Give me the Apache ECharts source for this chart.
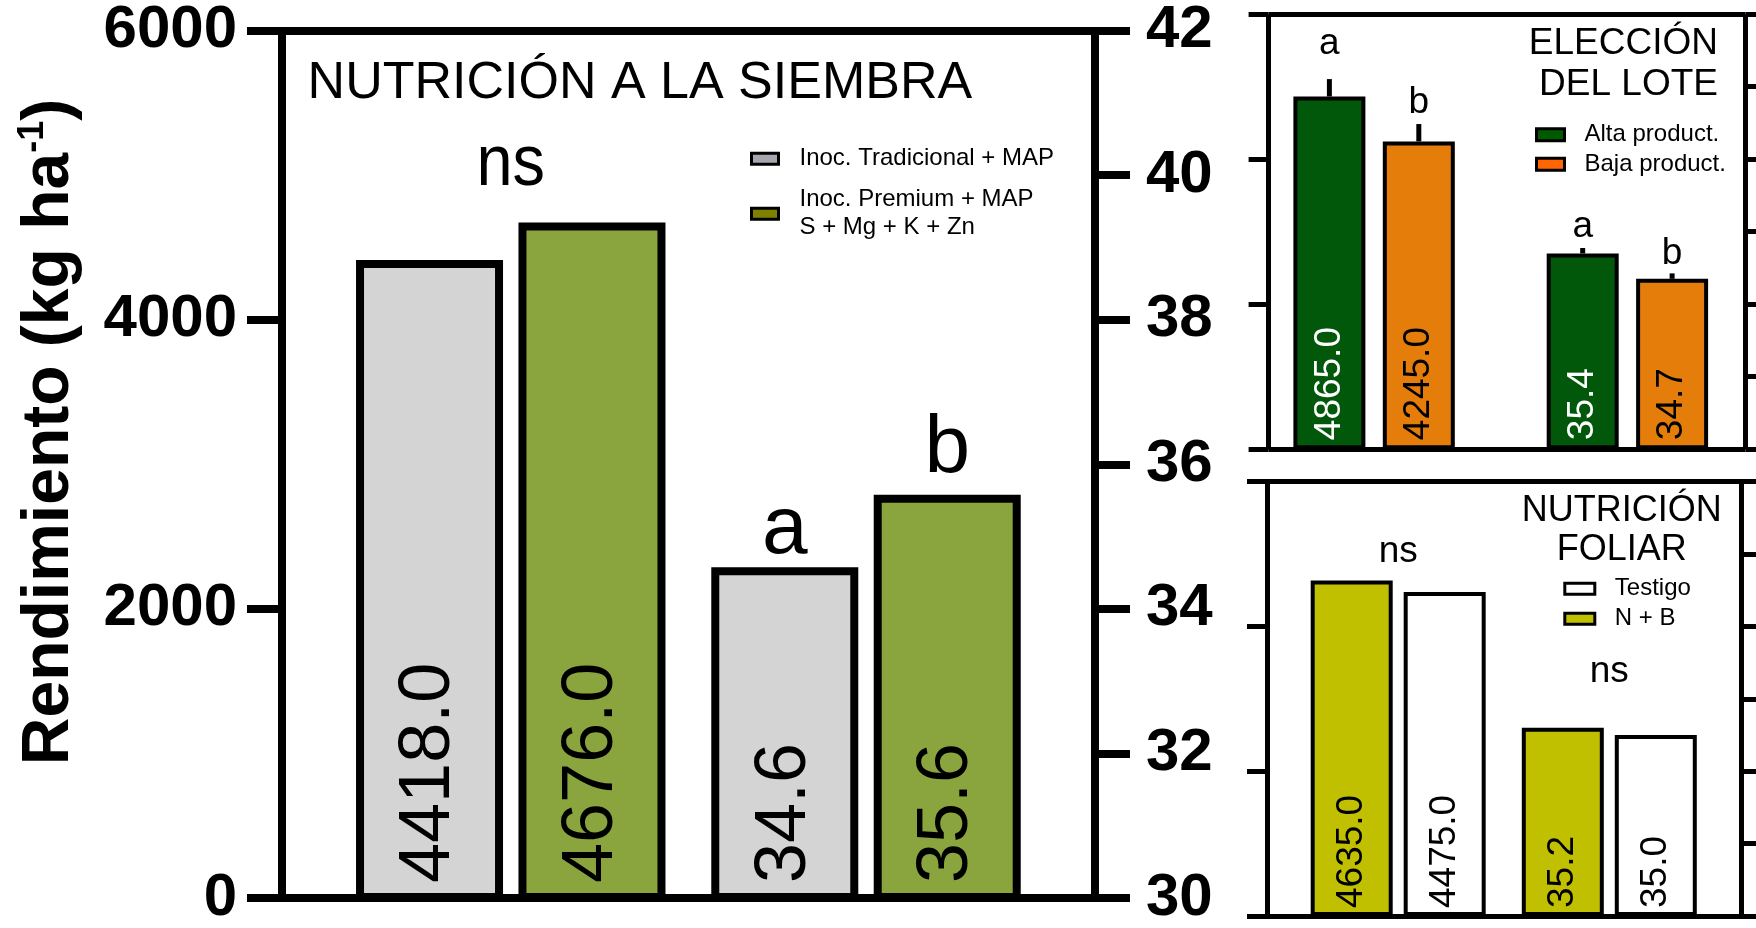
<!DOCTYPE html>
<html><head><meta charset="utf-8">
<script src="https://cdn.jsdelivr.net/npm/echarts@6/dist/echarts.min.js"></script>
<style>html,body{margin:0;padding:0;background:#fff}#c{width:1756px;height:928px}</style>
</head><body><div id="c"></div>
<script>
// ---------------- DATA ----------------
const yieldTicks = [0, 2000, 4000, 6000];
const weightTicks = [30, 32, 34, 36, 38, 40, 42];
const groupCats = ['Rendimiento', 'Peso'];

const siembraNames = ['Inoc. Tradicional + MAP', 'Inoc. Premium + MAP\nS + Mg + K + Zn'];
const siembraYield = [4418, 4676];
const siembraWeight = [34.6, 35.6];
const siembraYieldSig = ['ns'];
const siembraWeightSig = ['a', 'b'];

const loteNames = ['Alta product.', 'Baja product.'];
const loteYield = [4865, 4245];
const loteYieldErr = [240, 240];
const loteWeight = [35.4, 34.7];
const loteWeightErr = [0.15, 0.15];
const loteYieldSig = ['a', 'b'];
const loteWeightSig = ['a', 'b'];

const foliarNames = ['N + B', 'Testigo'];
const foliarYield = [4635, 4475];
const foliarWeight = [35.2, 35.0];
const foliarYieldSig = ['ns'];
const foliarWeightSig = ['ns'];
const foliarLegendOrder = ['Testigo', 'N + B'];

const titleSiembra = 'NUTRICIÓN A LA SIEMBRA';
const titleLote = 'ELECCIÓN\nDEL LOTE';
const titleFoliar = 'NUTRICIÓN\nFOLIAR';

// ---------------- LAYOUT / STYLE ----------------
const FONT = "'Liberation Sans', Arial, Helvetica, sans-serif";
const grid = [], xAxis = [], yAxis = [], series = [], legend = [], graphic = [];

function axisRange(t) { return { min: t[0], max: t[t.length - 1], interval: t[1] - t[0] }; }

function buildPanel(p) {
  const fg = grid.push(Object.assign({ containLabel: false }, p.frame)) - 1;
  const ls = { color: '#000', width: p.lineW, cap: 'butt' };
  ['bottom', 'top'].forEach(pos => xAxis.push({
    gridIndex: fg, type: 'category', data: [''], position: pos,
    axisLine: { show: true, onZero: false, lineStyle: ls },
    axisTick: { show: false }, axisLabel: { show: false }, splitLine: { show: false }
  }));
  [[yieldTicks, 'left', p.leftLabel], [weightTicks, 'right', p.rightLabel]].forEach(([t, pos, lab]) => yAxis.push(Object.assign({
    gridIndex: fg, type: 'value', position: pos,
    axisLine: { show: true, onZero: false, lineStyle: ls },
    axisTick: { show: true, length: p.tickLen, lineStyle: ls },
    axisLabel: lab ? Object.assign({ fontFamily: FONT, fontWeight: 'bold', color: '#000', formatter: v => String(v) }, lab) : { show: false },
    splitLine: { show: false }
  }, axisRange(t))));

  p.groups.forEach((grp, gi) => {
    const cx = p.groupCenters[gi];
    const bg = grid.push({ left: cx - p.groupW / 2, width: p.groupW, top: p.frame.top, height: p.frame.height }) - 1;
    const xi = xAxis.push({ gridIndex: bg, type: 'category', data: [groupCats[gi]], show: false }) - 1;
    const yi = yAxis.push(Object.assign({ gridIndex: bg, type: 'value', show: false, startValue: grp.ticks[0] }, axisRange(grp.ticks))) - 1;
    grp.vals.forEach((v, si) => {
      series.push({
        type: 'bar', name: p.names[si], xAxisIndex: xi, yAxisIndex: yi, data: [v],
        barWidth: p.barW, barGap: (p.barGap * 100) + '%', clip: true, silent: true,
        itemStyle: { color: p.colors[si], borderColor: '#000', borderWidth: p.barBorder },
        label: {
          show: true, position: 'insideBottom', rotate: 90, align: 'left', verticalAlign: 'middle',
          distance: p.labelDist, fontSize: p.labelFs, fontFamily: FONT, color: p.labelColors[si],
          formatter: q => Number(q.value).toFixed(1)
        }
      });
    });
    const n = grp.vals.length;
    const maxIdx = grp.vals.indexOf(Math.max.apply(null, grp.vals));
    const mkText = (txt, x, baseY, fs, sx) => ({
      type: 'text', x: x, y: baseY - 0.35 * fs, scaleX: sx,
      style: { text: txt, x: 0, y: 0, align: 'center', verticalAlign: 'middle', fontSize: fs, lineHeight: fs, fontFamily: FONT, fill: '#000' }
    });
    series.push({
      type: 'custom', xAxisIndex: xi, yAxisIndex: yi, silent: true, z: 5, clip: false,
      data: grp.vals.map((v, i) => [0, v, grp.err ? grp.err[i] : 0]),
      encode: { x: 0, y: 1 },
      renderItem: function (params, api) {
        const i = params.dataIndex;
        const v = api.value(1), e = api.value(2);
        const dx = (i - (n - 1) / 2) * p.barW * (1 + p.barGap);
        const b = api.coord([0, v]);
        const t = api.coord([0, v + e]);
        const ch = [];
        const fs = grp.sigFs, sx = grp.sigScaleX || 1;
        if (e > 0) ch.push({ type: 'line', shape: { x1: b[0] + dx, y1: b[1], x2: b[0] + dx, y2: t[1] }, style: { stroke: '#000', lineWidth: p.errW } });
        if (grp.sig.length === n) {
          ch.push(mkText(grp.sig[i], b[0] + dx, t[1] - grp.sigGap[i], fs, sx));
        } else if (i === maxIdx) {
          ch.push(mkText(grp.sig[0], b[0], t[1] - grp.sigGap[0], fs, sx));
        }
        return { type: 'group', children: ch };
      }
    });
  });

  legend.push(Object.assign({
    orient: 'vertical', padding: 0, icon: 'rect', selectedMode: false,
    itemStyle: { borderColor: '#000', borderWidth: 3 },
    textStyle: { fontFamily: FONT, fontSize: 24, color: '#000', lineHeight: 28, padding: [0, 0, 0, p.legendPad] },
    data: p.legendNames.map((nm, i) => ({ name: nm, itemStyle: { color: p.legendColors[i], borderColor: '#000', borderWidth: 3 } }))
  }, p.legend));
}

// Main panel: sowing nutrition
buildPanel({
  frame: { left: 282, top: 30.5, width: 813, height: 870.5 },
  lineW: 8, tickLen: 35,
  leftLabel: { fontSize: 60, margin: 45 },
  rightLabel: { fontSize: 60, margin: 51 },
  groupCenters: [510.75, 866], groupW: 320,
  barW: 147, barGap: 0.105, barBorder: 8, errW: 5,
  labelFs: 72, labelDist: 18,
  names: siembraNames, colors: ['#d4d4d4', '#8ba53e'], labelColors: ['#000', '#000'],
  groups: [
    { vals: siembraYield, ticks: yieldTicks, sig: siembraYieldSig, sigGap: [32], sigFs: 72, sigScaleX: 0.9 },
    { vals: siembraWeight, ticks: weightTicks, sig: siembraWeightSig, sigGap: [8, 17], sigFs: 82 }
  ],
  legendNames: siembraNames, legendColors: ['#a6a6ae', '#808000'], legendPad: 16,
  legend: { left: 750, top: 144.7, itemGap: 13, itemWidth: 27, itemHeight: 11 }
});

// Top right: lot choice
buildPanel({
  frame: { left: 1268.6, top: 14.2, width: 477, height: 435 },
  lineW: 5, tickLen: 20,
  leftLabel: null, rightLabel: null,
  groupCenters: [1374.1, 1627.4], groupW: 220,
  barW: 72, barGap: 0.242, barBorder: 4, errW: 5,
  labelFs: 37, labelDist: 9,
  names: loteNames, colors: ['#01580a', '#e47d0a'], labelColors: ['#fff', '#000'],
  groups: [
    { vals: loteYield, err: loteYieldErr, ticks: yieldTicks, sig: loteYieldSig, sigGap: [22, 8], sigFs: 37 },
    { vals: loteWeight, err: loteWeightErr, ticks: weightTicks, sig: loteWeightSig, sigGap: [8, 7], sigFs: 37 }
  ],
  legendNames: loteNames, legendColors: ['#005a00', '#ff6600'], legendPad: 15,
  legend: { left: 1535, top: 120.8, itemGap: 1.4, itemWidth: 28, itemHeight: 12 }
});

// Bottom right: foliar nutrition
buildPanel({
  frame: { left: 1267, top: 481.7, width: 474, height: 434.3 },
  lineW: 5, tickLen: 20,
  leftLabel: null, rightLabel: null,
  groupCenters: [1398.2, 1609.3], groupW: 220,
  barW: 82, barGap: 0.134, barBorder: 4, errW: 5,
  labelFs: 37, labelDist: 8,
  names: foliarNames, colors: ['#c0c000', '#ffffff'], labelColors: ['#000', '#000'],
  groups: [
    { vals: foliarYield, ticks: yieldTicks, sig: foliarYieldSig, sigGap: [16], sigFs: 37 },
    { vals: foliarWeight, ticks: weightTicks, sig: foliarWeightSig, sigGap: [43], sigFs: 37 }
  ],
  legendNames: foliarLegendOrder, legendColors: ['#ffffff', '#c0c000'], legendPad: 15,
  legend: { left: 1563.3, top: 574.7, itemGap: 2, itemWidth: 30, itemHeight: 11 }
});

// Titles and y-axis name
graphic.push({ type: 'text', x: 307.6, y: 102 - 0.35 * 52, style: { text: titleSiembra, fontSize: 52, lineHeight: 52, fontFamily: FONT, fill: '#000', align: 'left', verticalAlign: 'middle' } });
graphic.push({ type: 'text', x: 1718, y: 56.7 - 0.35 * 37 - 20.5, style: { text: titleLote, fontSize: 37, lineHeight: 41, fontFamily: FONT, fill: '#000', align: 'right', verticalAlign: 'top' } });
graphic.push({ type: 'text', x: 1621.7, y: 523.3 - 0.35 * 36 - 19.7, style: { text: titleFoliar, fontSize: 36, lineHeight: 39.4, fontFamily: FONT, fill: '#000', align: 'center', verticalAlign: 'top' } });
graphic.push({
  type: 'text', x: 50, y: 432, rotation: Math.PI / 2,
  style: {
    text: '{m|Rendimiento (kg ha}{s|-1}{m|)}', align: 'center', verticalAlign: 'middle',
    rich: {
      m: { fontSize: 66, fontWeight: 'bold', fontFamily: FONT, fill: '#000', lineHeight: 70 },
      s: { fontSize: 36, fontWeight: 'bold', fontFamily: FONT, fill: '#000', lineHeight: 40, verticalAlign: 'top' }
    }
  }
});

const chart = echarts.init(document.getElementById('c'), null, { renderer: 'canvas' });
chart.setOption({ animation: false, backgroundColor: '#fff', grid, xAxis, yAxis, series, legend, graphic });
</script></body></html>
